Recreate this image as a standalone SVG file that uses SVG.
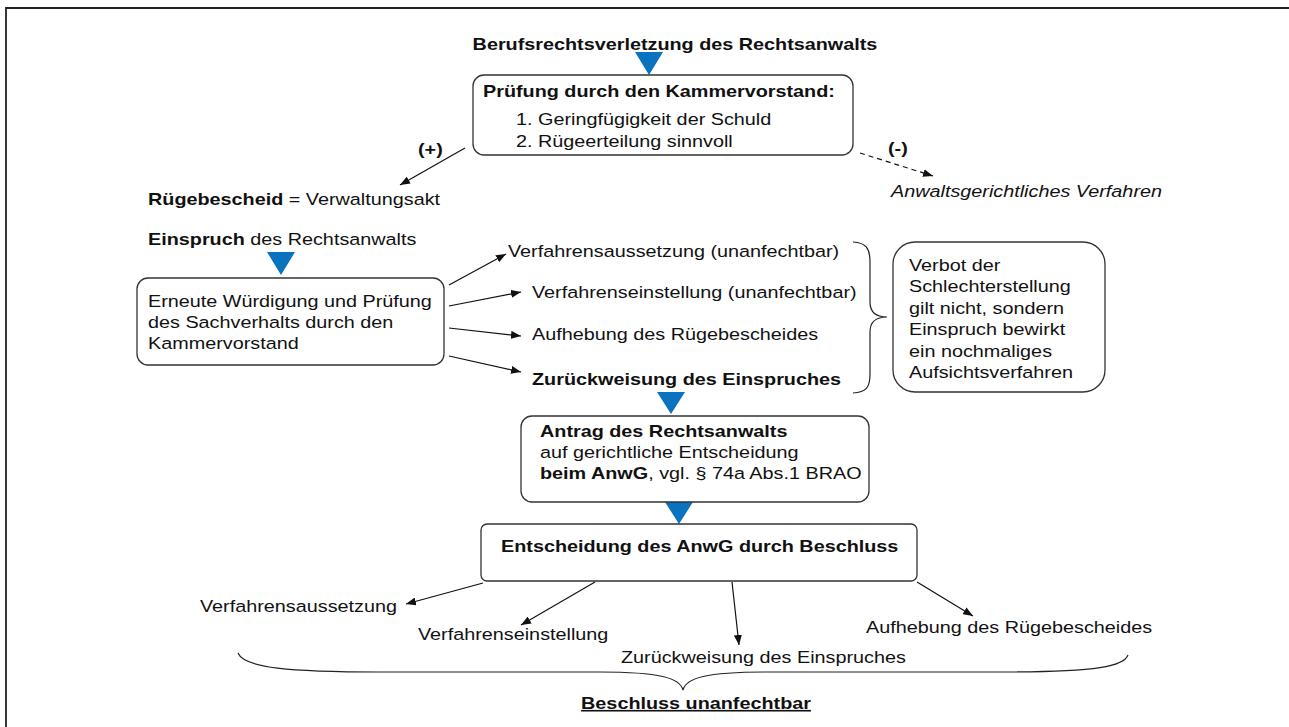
<svg xmlns="http://www.w3.org/2000/svg" width="1289" height="727" viewBox="0 0 1289 727">
  <style>
    text { font-family: "Liberation Sans", Arial, sans-serif; font-size: 16.3px; fill: #111; }
    .b { font-weight: bold; }
    .i { font-style: italic; }
    .box { fill: #fff; stroke: #333; stroke-width: 1.3; }
    .tri { fill: #0B72C0; }
    .ln { fill: none; stroke: #111; stroke-width: 1.2; }
    .dash { stroke-dasharray: 5 4; }
    .brace { fill: none; stroke: #222; stroke-width: 1.2; }
  </style>
  <defs>
    <marker id="ah" viewBox="0 0 10 8" refX="10" refY="4" markerWidth="10" markerHeight="8" markerUnits="userSpaceOnUse" orient="auto">
      <path d="M0,0 L10,4 L0,8 Z" fill="#111"/>
    </marker>
  </defs>

  <rect width="1289" height="727" fill="#fff"/>
  <!-- page frame -->
  <path d="M6,727 V8 H1289" fill="none" stroke="#222" stroke-width="1.8"/>

  <!-- title -->
  <g id="title">
    <text class="b" text-anchor="middle" transform="translate(675 50) scale(1.215 1)">Berufsrechtsverletzung des Rechtsanwalts</text>
  </g>

  <!-- block arrows -->
  <g id="flow-triangles">
    <polygon class="tri" points="635,52 663,52 649,75"/>
    <polygon class="tri" points="267,252 295,252 281,275"/>
    <polygon class="tri" points="657,392 685,392 671,414"/>
    <polygon class="tri" points="665,502 693,502 679,524"/>
  </g>

  <g id="pruefung">
    <rect class="box" x="473" y="75" width="380" height="80" rx="11"/>
    <text class="b" transform="translate(483 97) scale(1.215 1)">Prüfung durch den Kammervorstand:</text>
    <text transform="translate(516 125) scale(1.215 1)">1. Geringfügigkeit der Schuld</text>
    <text transform="translate(516 147) scale(1.215 1)">2. Rügeerteilung sinnvoll</text>
  </g>

  <g id="label-plus">
    <text class="b" transform="translate(418 155) scale(1.215 1)">(+)</text>
  </g>
  <g id="label-minus">
    <text class="b" transform="translate(888 154) scale(1.215 1)">(-)</text>
  </g>

  <g id="anwaltsgericht">
    <text class="i" transform="translate(891 197) scale(1.215 1)">Anwaltsgerichtliches Verfahren</text>
  </g>

  <g id="ruegebescheid">
    <text transform="translate(148 205) scale(1.215 1)"><tspan class="b">Rügebescheid</tspan> = Verwaltungsakt</text>
  </g>

  <g id="einspruch">
    <text transform="translate(148 245) scale(1.215 1)"><tspan class="b">Einspruch</tspan> des Rechtsanwalts</text>
  </g>

  <g id="wuerdigung">
    <rect class="box" x="137" y="278" width="307" height="87" rx="11"/>
    <text transform="translate(148 307) scale(1.215 1)">Erneute Würdigung und Prüfung</text>
    <text transform="translate(148 328) scale(1.215 1)">des Sachverhalts durch den</text>
    <text transform="translate(148 349) scale(1.215 1)">Kammervorstand</text>
  </g>

  <g id="ergebnis-aussetzung">
    <text transform="translate(508 257) scale(1.215 1)">Verfahrensaussetzung (unanfechtbar)</text>
  </g>
  <g id="ergebnis-einstellung">
    <text transform="translate(532 298) scale(1.215 1)">Verfahrenseinstellung (unanfechtbar)</text>
  </g>
  <g id="ergebnis-aufhebung">
    <text transform="translate(532 340) scale(1.215 1)">Aufhebung des Rügebescheides</text>
  </g>
  <g id="ergebnis-zurueckweisung">
    <text class="b" transform="translate(532 385) scale(1.215 1)">Zurückweisung des Einspruches</text>
  </g>

  <g id="verbot">
    <rect class="box" x="893" y="242" width="212" height="150" rx="22"/>
    <text transform="translate(909 271) scale(1.215 1)">Verbot der</text>
    <text transform="translate(909 292.4) scale(1.215 1)">Schlechterstellung</text>
    <text transform="translate(909 313.8) scale(1.215 1)">gilt nicht, sondern</text>
    <text transform="translate(909 335.2) scale(1.215 1)">Einspruch bewirkt</text>
    <text transform="translate(909 356.6) scale(1.215 1)">ein nochmaliges</text>
    <text transform="translate(909 378) scale(1.215 1)">Aufsichtsverfahren</text>
  </g>

  <g id="antrag">
    <rect class="box" x="521" y="416" width="348" height="86" rx="11"/>
    <text class="b" transform="translate(540 437) scale(1.215 1)">Antrag des Rechtsanwalts</text>
    <text transform="translate(540 458) scale(1.215 1)">auf gerichtliche Entscheidung</text>
    <text transform="translate(540 479) scale(1.215 1)"><tspan class="b">beim AnwG</tspan>, vgl. § 74a Abs.1 BRAO</text>
  </g>

  <g id="entscheidung">
    <rect class="box" x="481" y="524" width="436" height="57" rx="6"/>
    <text class="b" transform="translate(501 552) scale(1.215 1)">Entscheidung des AnwG durch Beschluss</text>
  </g>

  <g id="beschluss-aussetzung">
    <text transform="translate(200 612) scale(1.215 1)">Verfahrensaussetzung</text>
  </g>
  <g id="beschluss-einstellung">
    <text transform="translate(418 640) scale(1.215 1)">Verfahrenseinstellung</text>
  </g>
  <g id="beschluss-zurueckweisung">
    <text transform="translate(621 663) scale(1.215 1)">Zurückweisung des Einspruches</text>
  </g>
  <g id="beschluss-aufhebung">
    <text transform="translate(866 633) scale(1.215 1)">Aufhebung des Rügebescheides</text>
  </g>

  <g id="unanfechtbar">
    <text class="b" text-anchor="middle" text-decoration="underline" transform="translate(696 709) scale(1.215 1)">Beschluss unanfechtbar</text>
  </g>

  <!-- connectors -->
  <g id="connectors">
    <line class="ln" x1="465" y1="148" x2="400" y2="185" marker-end="url(#ah)"/>
    <line class="ln dash" x1="860" y1="153" x2="933" y2="176" marker-end="url(#ah)"/>

    <line class="ln" x1="449" y1="285" x2="506" y2="254" marker-end="url(#ah)"/>
    <line class="ln" x1="449" y1="306" x2="521" y2="292" marker-end="url(#ah)"/>
    <line class="ln" x1="449" y1="328" x2="521" y2="336" marker-end="url(#ah)"/>
    <line class="ln" x1="449" y1="356" x2="521" y2="372" marker-end="url(#ah)"/>

    <line class="ln" x1="483" y1="583" x2="406" y2="604" marker-end="url(#ah)"/>
    <line class="ln" x1="595" y1="582" x2="521" y2="625" marker-end="url(#ah)"/>
    <line class="ln" x1="732" y1="582" x2="739" y2="645" marker-end="url(#ah)"/>
    <line class="ln" x1="917" y1="582" x2="973" y2="616" marker-end="url(#ah)"/>

    <!-- brace grouping the outcomes of the objection -->
    <path class="brace" d="M853,242 C866,243 870,248 870,262 L870,302 C870,312 876,317 887,317 C876,317 870,322 870,332 L870,374 C870,388 866,392 853,393"/>
    <!-- brace under the court outcomes -->
    <path class="brace" d="M238,653 C244,668 290,672 380,672 L600,672 C660,672 680,678 683,690 C686,678 706,672 766,672 L1000,672 C1100,672 1124,666 1128,655"/>
  </g>
</svg>
